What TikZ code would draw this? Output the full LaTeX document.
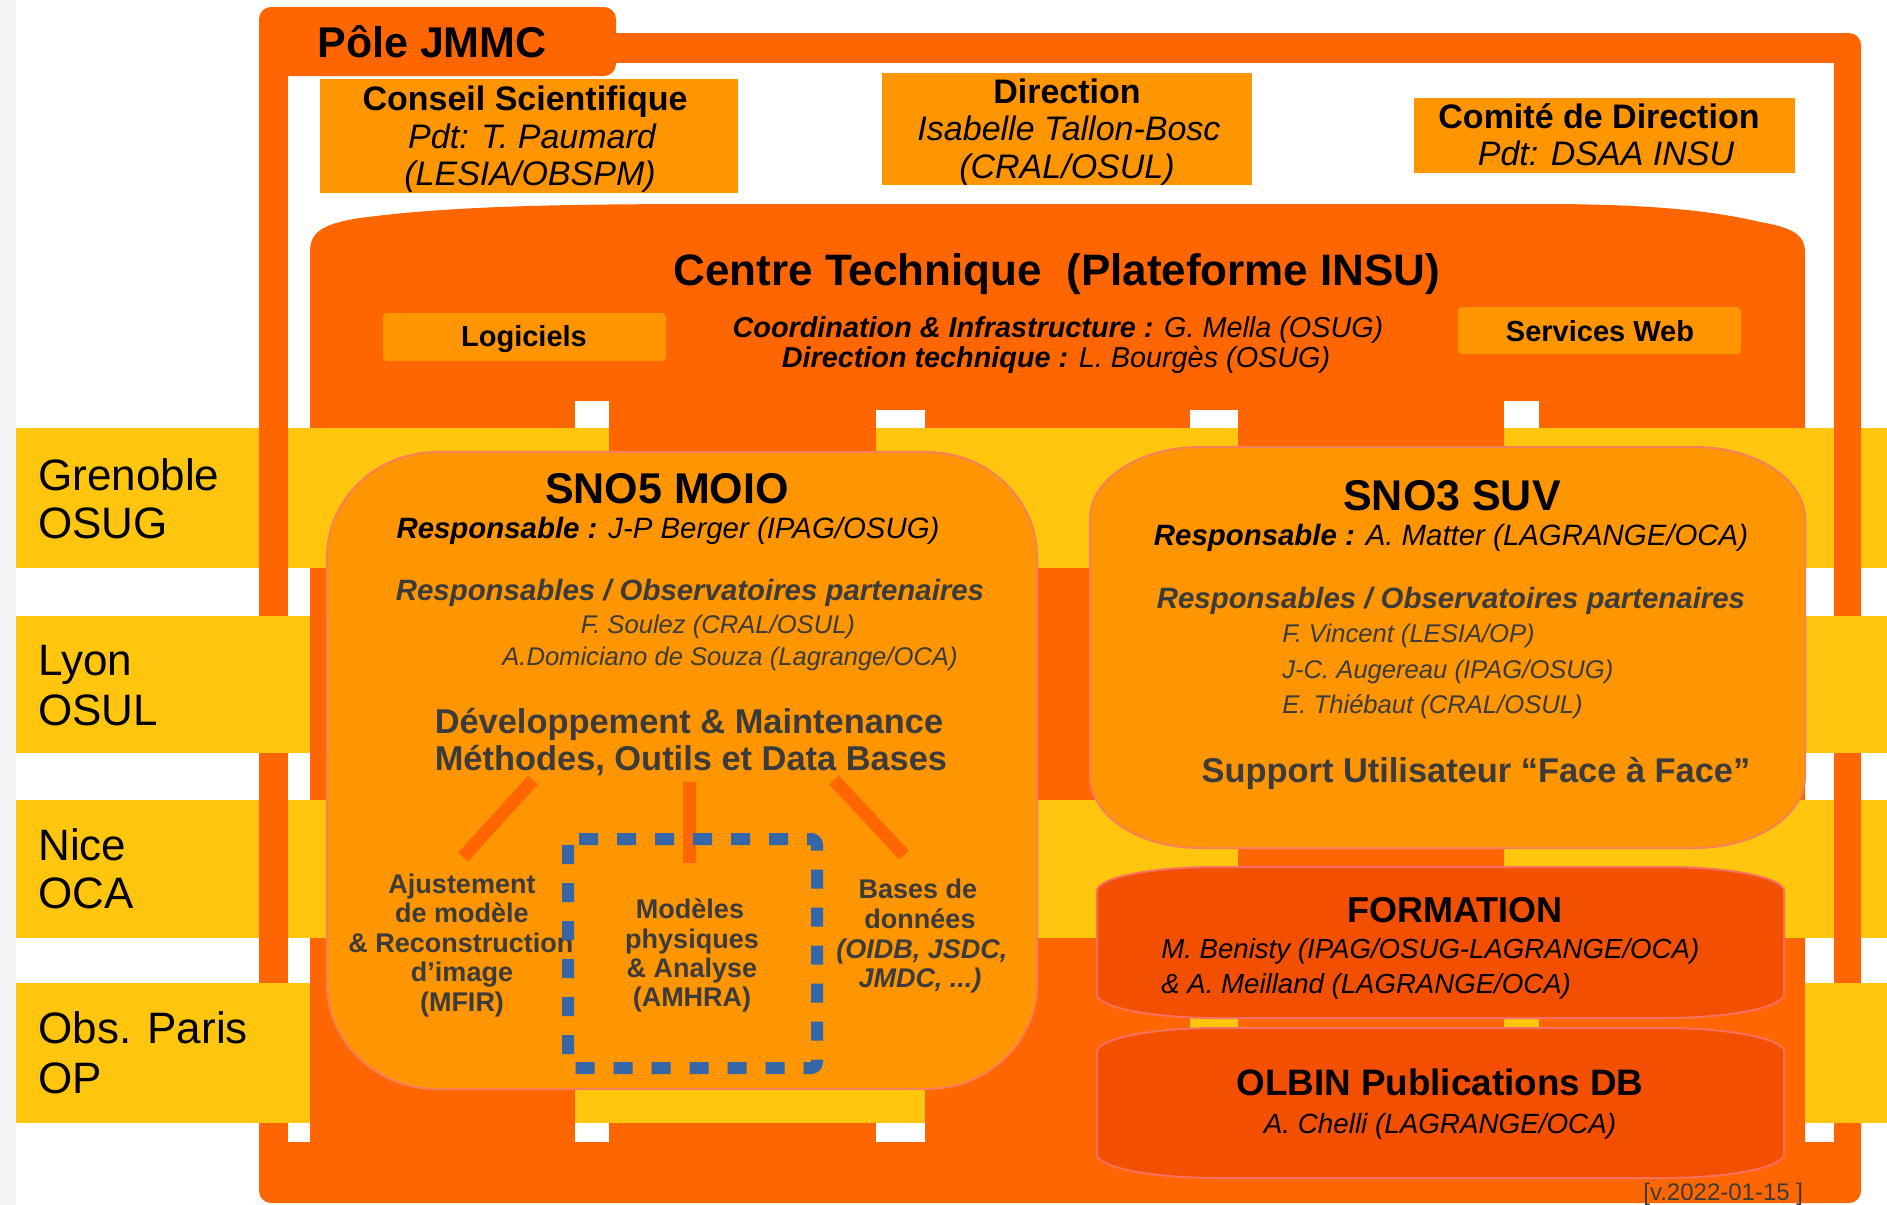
\documentclass[tikz,border=0pt]{standalone}
\usepackage{fontspec}
\setmainfont{Liberation Sans}
\definecolor{orM}{HTML}{FF6600}
\definecolor{orL}{HTML}{FF9500}
\definecolor{yeB}{HTML}{FFC60D}
\definecolor{orF}{HTML}{F24F00}
\definecolor{lnS}{HTML}{F5805A}
\definecolor{lnF}{HTML}{F86F5F}
\definecolor{txD}{HTML}{3B3B3B}
\definecolor{dsB}{HTML}{3566A8}
\definecolor{grL}{HTML}{F5F5F5}
\newcommand{\fsz}[1]{\fontsize{#1}{#1}\selectfont}
\newcommand{\elbox}[6]{(#1,#2+#6) .. controls (#1,#2+0.448*#6) and (#1+0.448*#5,#2) .. (#1+#5,#2) -- (#3-#5,#2) .. controls (#3-0.448*#5,#2) and (#3,#2+0.448*#6) .. (#3,#2+#6) -- (#3,#4-#6) .. controls (#3,#4-0.448*#6) and (#3-0.448*#5,#4) .. (#3-#5,#4) -- (#1+#5,#4) .. controls (#1+0.448*#5,#4) and (#1,#4-0.448*#6) .. (#1,#4-#6) -- cycle}
\tikzset{
  txt/.style={inner sep=0pt, anchor=base},
  txl/.style={inner sep=0pt, anchor=base west},
  band/.style={fill=yeB},
  hole/.style={fill=white},
  topbox/.style={fill=orL},
  snobox/.style={fill=orL, draw=lnS, line width=1pt},
  frmbox/.style={fill=orF, draw=lnF, line width=1pt},
  link/.style={draw=orM, line width=6.5pt},
  dashbox/.style={draw=dsB, line width=6pt, dash pattern=on 9.5pt off 9.5pt, rounded corners=3pt}
}
\begin{document}
\begin{tikzpicture}[x=0.5pt,y=-0.5pt]
\useasboundingbox (0,0) rectangle (1887,1205);
\fill[white] (0,0) rectangle (1887,1205);
\fill[grL] (0,0) rectangle (16,1205);
% Pole JMMC frame
\fill[orM, rounded corners=6pt] (259,33) rectangle (1861,1203);
\fill[white] (288,63) rectangle (1834,1142);
\fill[orM, rounded corners=6pt] (259,7) rectangle (616,76);
% Centre technique body
\fill[orM] (310,1150) -- (310,252) .. controls (310,232) and (322,224) .. (360,218) .. controls (450,206) and (560,204) .. (720,204) -- (1560,204) .. controls (1650,205) and (1710,210) .. (1760,222) .. controls (1795,228) and (1805,236) .. (1805,252) -- (1805,1150) -- cycle;
% white strips
\fill[hole] (575,401) rectangle (609,1142);
\fill[hole] (876,410) rectangle (925,1142);
\fill[hole] (1190,410) rectangle (1238,1142);
\fill[hole] (1504,401) rectangle (1539,1142);
% bands in front of centre
\fill[band] (16,428) rectangle (1887,568);
\fill[band] (16,800) rectangle (1887,938);
\fill[orM] (609,428) rectangle (876,568);
\fill[orM] (1238,428) rectangle (1504,568);
\fill[orM] (609,800) rectangle (876,938);
\fill[orM] (1238,800) rectangle (1504,938);
\fill[orM] (259,428) rectangle (288,568);
\fill[orM] (1834,428) rectangle (1861,568);
\fill[orM] (259,800) rectangle (288,938);
\fill[orM] (1834,800) rectangle (1861,938);
% bands behind centre
\foreach \ya/\yb in {616/753, 983/1123}{
  \fill[band] (16,\ya) rectangle (310,\yb);
  \fill[band] (1805,\ya) rectangle (1887,\yb);
  \fill[band] (575,\ya) rectangle (925,\yb);
  \fill[band] (1190,\ya) rectangle (1238,\yb);
  \fill[band] (1504,\ya) rectangle (1539,\yb);
}
% top boxes
\fill[topbox] (320,79) rectangle (738,193);
\fill[topbox] (882,73) rectangle (1252,185);
\fill[topbox] (1414,98) rectangle (1795,173);
\fill[topbox, rounded corners=2pt] (383,313) rectangle (666,361);
\fill[topbox, rounded corners=2pt] (1458,307) rectangle (1741,354);
% SNO boxes
\path[snobox] \elbox{327}{452}{1037}{1089}{110}{105};
\path[snobox] \elbox{1090}{447}{1805}{848}{110}{72};
\path[frmbox] \elbox{1097}{867}{1784}{1018}{120}{24};
\path[frmbox] \elbox{1097}{1028}{1784}{1178}{120}{24};
% texts
\node[txt, font=\bfseries\fsz{21.5}] (pole) at (432,57) {Pôle JMMC};
\node[txt, font=\bfseries\fsz{17}] (cs1) at (525,110) {Conseil Scientifique};
\node[txt, font=\itshape\fsz{17}] (cs2) at (532,148) {Pdt: T. Paumard};
\node[txt, font=\itshape\fsz{17}] (cs3) at (530,185) {(LESIA/OBSPM)};
\node[txt, font=\bfseries\fsz{17}] (di1) at (1067,103) {Direction};
\node[txt, font=\itshape\fsz{17}] (di2) at (1069,140) {Isabelle Tallon-Bosc};
\node[txt, font=\itshape\fsz{17}] (di3) at (1067,178) {(CRAL/OSUL)};
\node[txt, font=\bfseries\fsz{17}] (cd1) at (1599,128) {Comité de Direction};
\node[txt, font=\itshape\fsz{17}] (cd2) at (1606,165) {Pdt: DSAA INSU};
\node[txt, font=\bfseries\fsz{22}] (ct) at (1057,285) {Centre Technique\ \ (Plateforme INSU)};
\node[txt, font=\bfseries\fsz{14.5}] (logi) at (524,346) {Logiciels};
\node[txt, font=\bfseries\fsz{14.5}] (sweb) at (1600,341) {Services Web};
\node[txt, font=\itshape\fsz{14.4}] (coord) at (1058,337) {{\bfseries Coordination \& Infrastructure :} G. Mella (OSUG)};
\node[txt, font=\itshape\fsz{14.4}] (dtech) at (1056,367) {{\bfseries Direction technique :} L. Bourgès (OSUG)};
% SNO5
\node[txt, font=\bfseries\fsz{21.5}] (sno5t) at (667,503) {SNO5 MOIO};
\node[txt, font=\itshape\fsz{14.7}] (sno5r) at (668,538) {{\bfseries Responsable :} J-P Berger (IPAG/OSUG)};
\node[txt, font=\bfseries\itshape\fsz{14.7}, text=txD] (sno5p) at (690,600) {Responsables / Observatoires partenaires};
\node[txt, font=\itshape\fsz{12.8}, text=txD] (sno5a) at (718,633) {F. Soulez (CRAL/OSUL)};
\node[txt, font=\itshape\fsz{12.8}, text=txD] (sno5b) at (730,665) {A.Domiciano de Souza (Lagrange/OCA)};
\node[txt, font=\bfseries\fsz{17.2}, text=txD] (dev1) at (689,733) {Développement \& Maintenance};
\node[txt, font=\bfseries\fsz{17.2}, text=txD] (dev2) at (691,770) {Méthodes, Outils et Data Bases};
\coordinate (la1) at (533,780); \coordinate (la2) at (463,857);
\coordinate (lb1) at (689,782); \coordinate (lb2) at (689,863);
\coordinate (lc1) at (834,780); \coordinate (lc2) at (904,855);
\draw[link] (la1) -- (la2);
\draw[link] (lb1) -- (lb2);
\draw[link] (lc1) -- (lc2);
\begin{scope}[every node/.style={txt, font=\bfseries\fsz{13.5}, text=txD}]
\node (aj1) at (462,893) {Ajustement};
\node (aj2) at (462,922.5) {de modèle};
\node (aj3) at (461,952) {\& Reconstruction};
\node (aj4) at (462,981.5) {d’image};
\node (aj5) at (462,1011) {(MFIR)};
\node (mo1) at (690,918) {Modèles};
\node (mo2) at (692,948) {physiques};
\node (mo3) at (692,977) {\& Analyse};
\node (mo4) at (692,1006) {(AMHRA)};
\node (bd1) at (918,898) {Bases de};
\node (bd2) at (920,928) {données};
\node[font=\bfseries\itshape\fsz{13.5}] (bd3) at (922,958) {(OIDB, JSDC,};
\node[font=\bfseries\itshape\fsz{13.5}] (bd4) at (920,987) {JMDC, ...)};
\end{scope}
\draw[dashbox] (568,839) rectangle (817,1068);
% SNO3
\node[txt, font=\bfseries\fsz{21.5}] (sno3t) at (1452,510) {SNO3 SUV};
\node[txt, font=\itshape\fsz{14.7}] (sno3r) at (1451,545) {{\bfseries Responsable :} A. Matter (LAGRANGE/OCA)};
\node[txt, font=\bfseries\itshape\fsz{14.7}, text=txD] (sno3p) at (1451,608) {Responsables / Observatoires partenaires};
\node[txl, font=\itshape\fsz{12.8}, text=txD] (sno3a) at (1282,642) {F. Vincent (LESIA/OP)};
\node[txl, font=\itshape\fsz{12.8}, text=txD] (sno3b) at (1282,678) {J-C. Augereau (IPAG/OSUG)};
\node[txl, font=\itshape\fsz{12.8}, text=txD] (sno3c) at (1282,713) {E. Thiébaut (CRAL/OSUL)};
\node[txt, font=\bfseries\fsz{17.2}, text=txD] (sno3s) at (1476,782) {Support Utilisateur “Face à Face”};
% Formation, OLBIN
\node[txt, font=\bfseries\fsz{18}] (formt) at (1455,922) {FORMATION};
\node[txl, font=\itshape\fsz{13.8}] (forma) at (1161,958) {M. Benisty (IPAG/OSUG-LAGRANGE/OCA)};
\node[txl, font=\itshape\fsz{13.8}] (formb) at (1161,993) {\& A. Meilland (LAGRANGE/OCA)};
\node[txt, font=\bfseries\fsz{18.4}] (olbt) at (1440,1095) {OLBIN Publications DB};
\node[txt, font=\itshape\fsz{13.9}] (olbc) at (1440,1133) {A. Chelli (LAGRANGE/OCA)};
% band labels
\begin{scope}[every node/.style={txl, font=\fsz{22}}]
\node (gre1) at (38,490) {Grenoble};
\node (gre2) at (38,538) {OSUG};
\node (lyo1) at (38,675) {Lyon};
\node (lyo2) at (38,725) {OSUL};
\node (nic1) at (38,860) {Nice};
\node (nic2) at (38,908) {OCA};
\node (par1) at (38,1043) {Obs. Paris};
\node (par2) at (38,1093) {OP};
\end{scope}
\node[txl, font=\fsz{12}, text=txD] (ver) at (1643,1200) {[v.2022-01-15 ]};
\end{tikzpicture}
\end{document}
